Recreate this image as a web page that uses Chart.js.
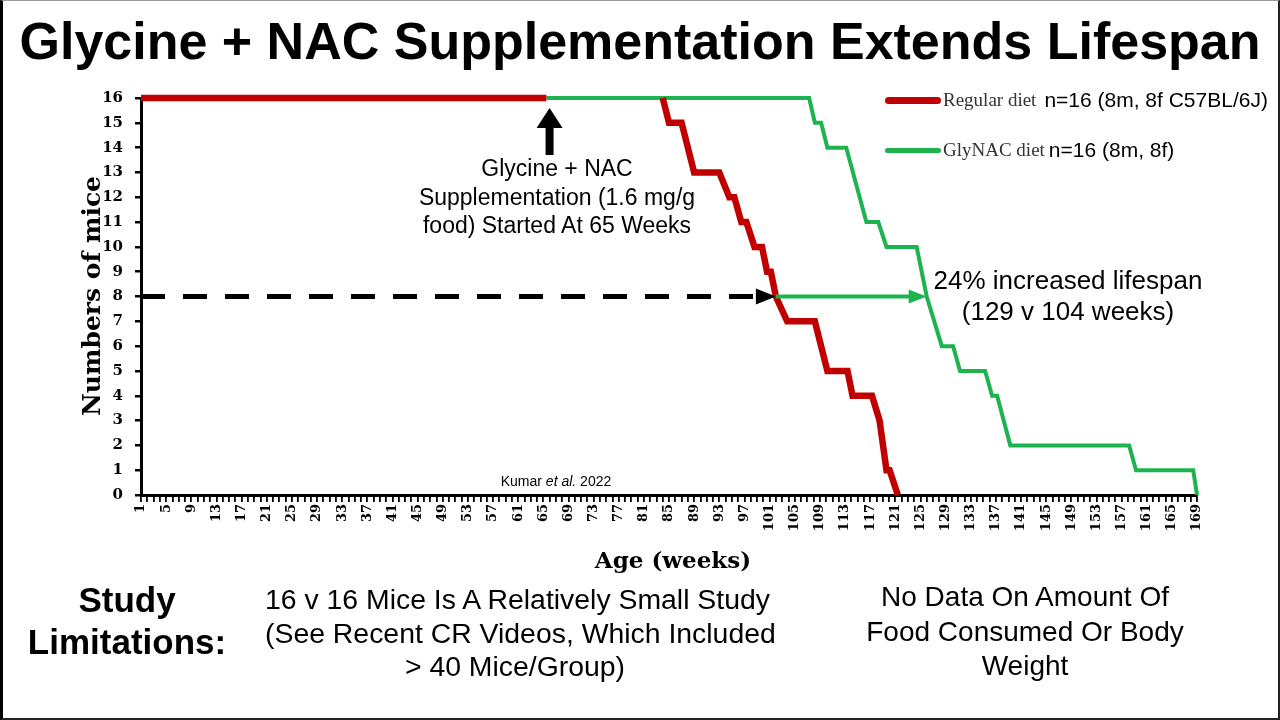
<!DOCTYPE html>
<html>
<head>
<meta charset="utf-8">
<title>Glycine + NAC Supplementation Extends Lifespan</title>
<script src="https://cdn.jsdelivr.net/npm/chart.js@4.4.1/dist/chart.umd.min.js"></script>
<style>
  html, body { margin: 0; padding: 0; background: #fff; }
  #stage { position: relative; width: 1280px; height: 720px; overflow: hidden; background: #fff;
           font-family: "Liberation Sans", Arial, sans-serif; color: #000; }
  #frame { position: absolute; left: 0; top: 0; width: 1280px; height: 720px; box-sizing: border-box;
           border-left: 3px solid #000; border-top: 1px solid #999; border-right: 2px solid #222;
           border-bottom: 2px solid #222; pointer-events: none; }
  #chart { position: absolute; left: 0; top: 0; }
  .txt { position: absolute; white-space: nowrap; text-align: center; }
  .serif { font-family: "DejaVu Serif", "Liberation Serif", serif; font-weight: bold; }
  .legend-row { position: absolute; left: 885px; white-space: nowrap; display: flex; align-items: center; }
  .swatch { display: inline-block; width: 56px; border-radius: 4px; margin-right: 2px; }
  .leg-name { font-family: "Liberation Serif", serif; font-size: 19px; color: #333; }
  .leg-n { font-size: 21px; margin-left: 8px; }
</style>
</head>
<body>
<div id="stage">
  <canvas id="chart" width="1280" height="720"></canvas>

  <div class="txt" style="left:0; top:10px; width:1280px; font-size:52px; line-height:62px; font-weight:bold;">Glycine + NAC Supplementation Extends Lifespan</div>

  <div class="legend-row" style="top:88px; height:24px;">
    <span class="swatch" style="height:7px; background:#c00000;"></span>
    <span class="leg-name">Regular diet</span><span class="leg-n">n=16 (8m, 8f C57BL/6J)</span>
  </div>
  <div class="legend-row" style="top:138px; height:24px;">
    <span class="swatch" style="height:5px; background:#1db34f;"></span>
    <span class="leg-name">GlyNAC diet</span><span class="leg-n" style="margin-left:4px;">n=16 (8m, 8f)</span>
  </div>

  <div class="txt" style="left:407px; top:154px; width:300px; font-size:23px; line-height:28.5px;">Glycine + NAC<br>Supplementation (1.6 mg/g<br>food) Started At 65 Weeks</div>
  <div class="txt" style="left:918px; top:265px; width:300px; font-size:26px; line-height:31px;">24% increased lifespan<br>(129 v 104 weeks)</div>
  <div class="txt" style="left:456px; top:472px; width:200px; font-size:14px; line-height:18px;">Kumar <i>et al.</i> 2022</div>

  <div class="txt serif" style="left:523px; top:545px; width:300px; font-size:23px; line-height:30px;">Age (weeks)</div>
  <div class="txt serif" style="left:-58px; top:281px; width:300px; font-size:25px; line-height:30px; transform:rotate(-90deg);">Numbers of mice</div>

  <div class="txt" style="left:0; top:579px; width:254px; font-size:35px; line-height:42px; font-weight:bold;">Study<br>Limitations:</div>
  <div class="txt" style="left:265px; top:583px; width:500px; font-size:28.4px; line-height:33.5px;">16 v 16 Mice Is A Relatively Small Study<br>(See Recent CR Videos, Which Included<br>&gt; 40 Mice/Group)</div>
  <div class="txt" style="left:825px; top:580px; width:400px; font-size:28px; line-height:34.5px;">No Data On Amount Of<br>Food Consumed Or Body<br>Weight</div>

  <div id="frame"></div>
</div>

<script>
// ─── Data ────────────────────────────────────────────────────────────────────
const regularWeeks  = [1, 65.5, 65.5, 84, 85, 87, 89, 93, 94.6, 95.4, 96.5, 97.3, 98.6, 99.8, 100.6, 101.2, 102, 103.8, 108.2, 110.2, 113.4, 114.2, 117.3, 118.5, 119.6, 120.1, 121.4];
const regularCounts = [16, 16, null, 16, 15, 15, 13, 13, 12, 12, 11, 11, 10, 10, 9, 9, 8, 7, 7, 5, 5, 4, 4, 3, 1, 1, 0];

const glyWeeks  = [65.5, 107.3, 108.2, 109.2, 110.2, 113.2, 116.4, 118.3, 119.6, 124.4, 126, 128.4, 130.2, 131.3, 135.3, 136.4, 137.2, 139.3, 158.2, 159.3, 168.4, 169];
const glyCounts = [16, 16, 15, 15, 14, 14, 11, 11, 10, 10, 8, 6, 6, 5, 5, 4, 4, 2, 2, 1, 1, 0];

// annotation anchors (weeks / mice)
const startWeek        = 66;   // supplementation start arrow
const halfAlive        = 8;    // median line
const regularMedianWk  = 102;
const glyMedianWk      = 126;

const weekMin = 1, weekMax = 169;
const miceMax = 16;

const RED   = '#c00000';
const GREEN = '#1db34f';

const toPoints = (xs, ys) => xs.map((w, i) => ({ x: w, y: ys[i] }));

// ─── Arrow overlay plugin ────────────────────────────────────────────────────
function arrowHead(ctx, tipX, tipY, len, half, dir, color) {
  ctx.fillStyle = color;
  ctx.beginPath();
  if (dir === 'right') {
    ctx.moveTo(tipX, tipY); ctx.lineTo(tipX - len, tipY - half); ctx.lineTo(tipX - len, tipY + half);
  } else {
    ctx.moveTo(tipX, tipY); ctx.lineTo(tipX - half, tipY + len); ctx.lineTo(tipX + half, tipY + len);
  }
  ctx.closePath();
  ctx.fill();
}

Chart.register({
  id: 'medianArrows',
  afterDatasetsDraw(chart) {
    const { ctx, scales: { x, y } } = chart;
    const yMid = y.getPixelForValue(halfAlive);
    const xA = x.getPixelForValue(weekMin);
    const xB = x.getPixelForValue(regularMedianWk);
    const xC = x.getPixelForValue(glyMedianWk);
    ctx.save();
    // black dashed line up to the regular-diet median
    ctx.strokeStyle = '#000'; ctx.lineWidth = 5; ctx.setLineDash([24, 18]);
    ctx.beginPath(); ctx.moveTo(xA, yMid); ctx.lineTo(xB - 22, yMid); ctx.stroke();
    ctx.setLineDash([]);
    arrowHead(ctx, xB, yMid, 20, 8, 'right', '#000');
    // green arrow between the two medians
    ctx.strokeStyle = GREEN; ctx.lineWidth = 4;
    ctx.beginPath(); ctx.moveTo(xB, yMid); ctx.lineTo(xC - 14, yMid); ctx.stroke();
    arrowHead(ctx, xC, yMid, 18, 7, 'right', GREEN);
    // supplementation start arrow
    const xs = x.getPixelForValue(startWeek);
    const top = y.getPixelForValue(miceMax) + 10;
    ctx.fillStyle = '#000';
    ctx.fillRect(xs - 4, top + 18, 8, 29);
    arrowHead(ctx, xs, top, 20, 13, 'up', '#000');
    ctx.restore();
  }
});

// ─── Chart ───────────────────────────────────────────────────────────────────
new Chart(document.getElementById('chart'), {
  type: 'line',
  data: {
    datasets: [
      { label: 'Regular diet', data: toPoints(regularWeeks, regularCounts),
        borderColor: RED, borderWidth: 6.5, pointRadius: 0, tension: 0, fill: false, spanGaps: false, clip: false },
      { label: 'GlyNAC diet', data: toPoints(glyWeeks, glyCounts),
        borderColor: GREEN, borderWidth: 4, pointRadius: 0, tension: 0, fill: false, clip: false },
    ]
  },
  options: {
    responsive: false, animation: false, devicePixelRatio: 1,
    layout: { padding: { left: 81, right: 83, top: 98, bottom: 165 } },
    plugins: { legend: { display: false }, tooltip: { enabled: false } },
    scales: {
      x: {
        type: 'linear', min: weekMin, max: weekMax,
        afterFit(scale) { scale.height = 60; },
        border: { color: '#000', width: 3 },
        grid: { display: true, drawOnChartArea: false, drawTicks: true, tickLength: 7, color: '#000', lineWidth: 1.8 },
        ticks: {
          stepSize: 1, autoSkip: false, minRotation: 90, maxRotation: 90, padding: 2,
          color: '#000', font: { family: 'DejaVu Serif', weight: 'bold', size: 13 },
          callback: v => ((v - weekMin) % 4 === 0 ? String(v) : '')
        }
      },
      y: {
        min: 0, max: miceMax,
        afterFit(scale) { scale.width = 60; },
        border: { color: '#000', width: 3 },
        grid: { display: true, drawOnChartArea: false, drawTicks: true, tickLength: 6, color: '#000', lineWidth: 2.5 },
        ticks: {
          stepSize: 1, padding: 12, color: '#000',
          font: { family: 'DejaVu Serif', weight: 'bold', size: 15 }
        }
      }
    }
  }
});
</script>
</body>
</html>
